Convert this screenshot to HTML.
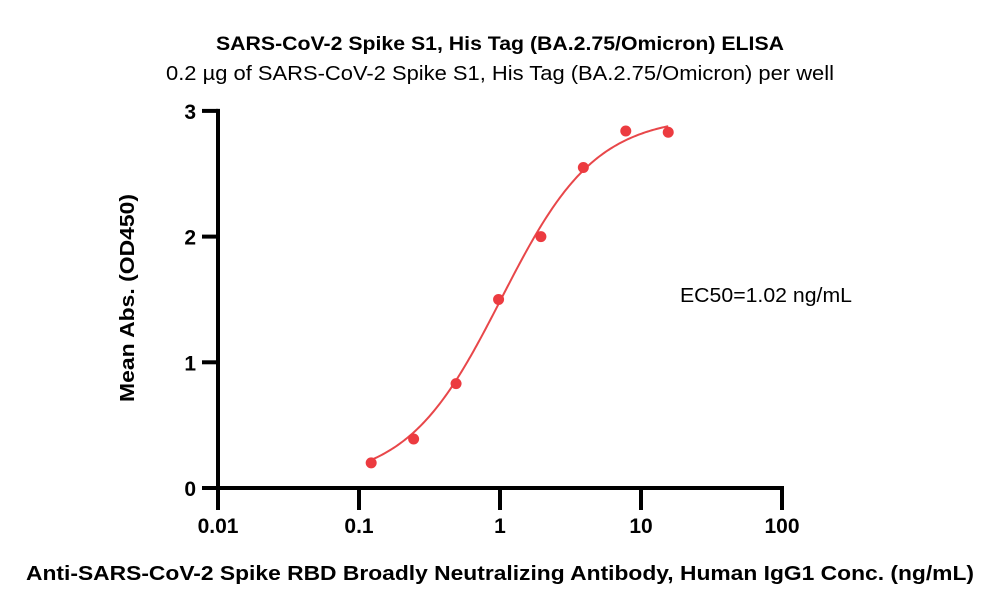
<!DOCTYPE html>
<html><head><meta charset="utf-8"><style>
html,body{margin:0;padding:0;background:#fff;}
svg{display:block;font-family:"Liberation Sans",sans-serif;}
</style></head><body>
<svg id="chart" width="1000" height="614" viewBox="0 0 1000 614">
<text x="500" y="50" text-anchor="middle" font-size="19" font-weight="bold" textLength="568" lengthAdjust="spacingAndGlyphs">SARS-CoV-2 Spike S1, His Tag (BA.2.75/Omicron) ELISA</text>
<text x="500" y="80" text-anchor="middle" font-size="20" textLength="668" lengthAdjust="spacingAndGlyphs">0.2 µg of SARS-CoV-2 Spike S1, His Tag (BA.2.75/Omicron) per well</text>
<text x="500" y="580" text-anchor="middle" font-size="20" font-weight="bold" textLength="948" lengthAdjust="spacingAndGlyphs">Anti-SARS-CoV-2 Spike RBD Broadly Neutralizing Antibody, Human IgG1 Conc. (ng/mL)</text>
<text transform="translate(134,298) rotate(-90)" text-anchor="middle" font-size="20" font-weight="bold" textLength="208" lengthAdjust="spacingAndGlyphs">Mean Abs. (OD450)</text>
<text x="680" y="302" font-size="20" textLength="172" lengthAdjust="spacingAndGlyphs">EC50=1.02 ng/mL</text>
<g id="axes"></g>
<g id="marks"></g>
</svg>
<script>
const xTicks=[0.01,0.1,1,10,100];
const xTickLabels=["0.01","0.1","1","10","100"];
const yTicks=[0,1,2,3];
const yTickLabels=["0","1","2","3"];
const conc=[0.122,0.244,0.488,0.977,1.95,3.9,7.8,15.6];
const od=[0.2,0.39,0.83,1.5,2.0,2.55,2.84,2.83];
const fitParams=[0.05,2.96,1.02,1.3]; // bottom, top, EC50, hill

const X0=218, DEC=141, Y0=488, YU=125.7;
function sx(v){return X0+(Math.log10(v)+2)*DEC;}
function sy(v){return Y0-v*YU;}
const NS="http://www.w3.org/2000/svg";
const axes=document.getElementById('axes'), marks=document.getElementById('marks');
function mk(tag,attrs,parent){const e=document.createElementNS(NS,tag);for(const k in attrs)e.setAttribute(k,attrs[k]);parent.appendChild(e);return e;}

const xa=mk('line',{x1:X0-16,y1:Y0,x2:sx(100)+2,y2:Y0,stroke:'#000','stroke-width':4},axes);


const ya=mk('line',{x1:X0,y1:sy(3)-2,x2:X0,y2:Y0+17,stroke:'#000','stroke-width':4},axes);


xTicks.forEach((v,i)=>{
  const t=mk('line',{x1:sx(v),y1:Y0,x2:sx(v),y2:Y0+22,stroke:'#000','stroke-width':4},axes);
  
  
  const l=mk('text',{x:sx(v),y:Y0+45,'text-anchor':'middle','font-size':21,'font-weight':'bold'},axes);
  l.textContent=xTickLabels[i];
  
  
});
yTicks.forEach((v,i)=>{
  const t=mk('line',{x1:X0-16,y1:sy(v),x2:X0,y2:sy(v),stroke:'#000','stroke-width':4},axes);
  
  
  const l=mk('text',{x:X0-22,y:sy(v)+8,'text-anchor':'end','font-size':21,'font-weight':'bold'},axes);
  l.textContent=yTickLabels[i];
  
  
});
function fit(x){const [b,t,c,h]=fitParams;return b+(t-b)/(1+Math.pow(c/x,h));}
let d='';const lo=Math.log10(conc[0]),hi=Math.log10(conc[conc.length-1]);
for(let i=0;i<=200;i++){const x=Math.pow(10,lo+(hi-lo)*i/200);d+=(i?'L':'M')+sx(x).toFixed(2)+','+sy(fit(x)).toFixed(2);}
const curve=mk('path',{d:d,fill:'none',stroke:'#e8474a','stroke-width':2},marks);


conc.forEach((c,i)=>{
  const p=mk('circle',{cx:sx(c),cy:sy(od[i]),r:5.5,fill:'#ec3b40'},marks);
  
  
});
</script>
</body></html>
